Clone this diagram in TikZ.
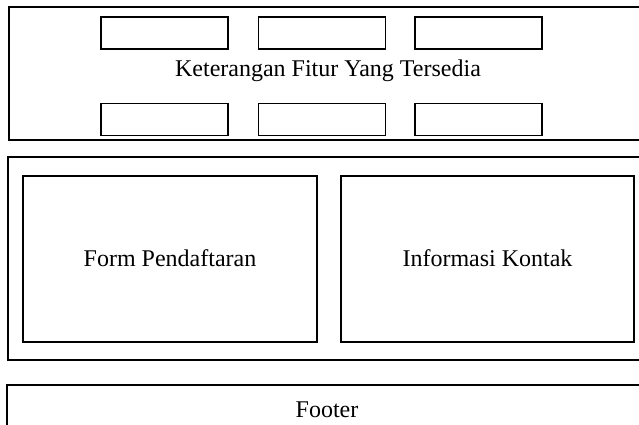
\documentclass[tikz,border=0pt]{standalone}
\usepackage{fontspec}
\setmainfont{Liberation Serif}
\begin{document}
\begin{tikzpicture}[x=1pt,y=-1pt,
  frame/.style={draw=black,line width=1.5pt,fill=none},
  panel/.style={draw=black,line width=1.4pt,inner sep=0pt,minimum width=127pt,minimum height=32pt},
  label/.style={anchor=base,inner sep=0pt,font=\fontsize{24}{28}\selectfont}]
  \clip (0,0) rectangle (639,425);
  \fill[white] (0,0) rectangle (639,425);

  % feature section
  \draw[frame] (9,7) rectangle (648,140);
  \foreach \name/\cx in {a/164.5,b/322,c/478.5}{
    \node[panel] (top-\name) at (\cx,33) {};
    \node[panel] (bot-\name) at (\cx,119.5) {};
  }
  \node[label] (fitur) at (328,77) {Keterangan Fitur Yang Tersedia};

  % registration and contact section
  \draw[frame] (8,157) rectangle (648,360);
  \draw[frame] (23,176) rectangle (317,342);
  \draw[frame] (341,176) rectangle (634,342);
  \node[label] (form) at (170,266) {Form Pendaftaran};
  \node[label] (kontak) at (487.5,266) {Informasi Kontak};

  % footer
  \draw[frame] (7,385) rectangle (648,440);
  \node[label] (footer) at (327,417) {Footer};
\end{tikzpicture}
\end{document}
